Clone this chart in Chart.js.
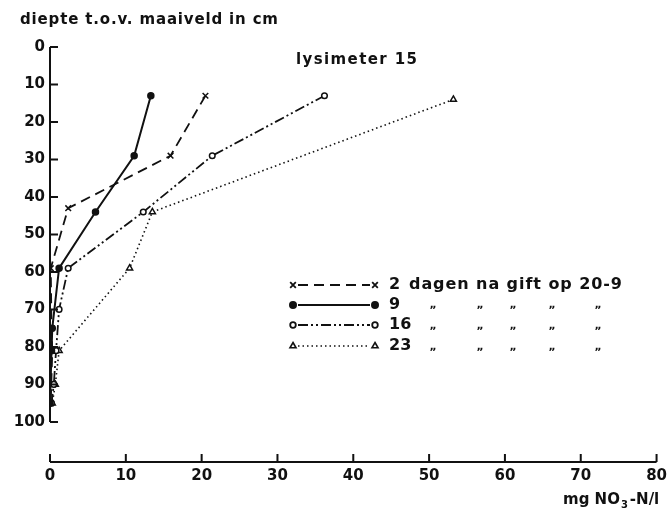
<!DOCTYPE html>
<html>
<head>
<meta charset="utf-8">
<script src="https://cdn.jsdelivr.net/npm/chart.js@4"></script>
<style>
  html, body { margin: 0; padding: 0; background: #fff; }
  #wrap { width: 672px; height: 508px; }
</style>
</head>
<body>
<div id="wrap"><canvas id="myChart" width="672" height="508"></canvas></div>
<script>
// ============================================
// DATA
// ============================================
const xTicks = [0, 10, 20, 30, 40, 50, 60, 70, 80];
const yTicks = [0, 10, 20, 30, 40, 50, 60, 70, 80, 90, 100];

const seriesNames = ['2', '9', '16', '23'];

const depth1 = [13, 29, 43, 59, 75, 81, 95];
const conc1 = [20.5, 15.9, 2.4, 0.1, 0.2, 0.3, 0.1];

const depth2 = [13, 29, 44, 59, 75, 81, 95];
const conc2 = [13.3, 11.1, 6.0, 1.2, 0.3, 0.2, 0];

const depth3 = [13, 29, 44, 59, 70, 81, 90, 95];
const conc3 = [36.2, 21.4, 12.3, 2.4, 1.2, 0.8, 0.5, 0.2];

const depth4 = [14, 44, 59, 81, 90, 95];
const conc4 = [53.2, 13.5, 10.5, 1.2, 0.7, 0.3];

const INK = '#111';
const FONT = '"DejaVu Sans", sans-serif';

function pts(xs, ys) {
    return xs.map((v, i) => ({ x: v, y: ys[i] }));
}

const styles = [
    { dash: [10, 6], width: 1.8, pointStyle: 'crossRot', radius: 4, fill: INK },
    { dash: [], width: 2, pointStyle: 'circle', radius: 3, fill: INK },
    { dash: [10, 3, 2, 3, 2, 3], width: 1.8, pointStyle: 'circle', radius: 2.8, fill: '#fff' },
    { dash: [1.5, 3], width: 1.6, pointStyle: 'triangle', radius: 3.5, fill: '#fff' }
];

const allData = [pts(conc1, depth1), pts(conc2, depth2), pts(conc3, depth3), pts(conc4, depth4)];

// draw text stretched to a given width using letter spacing
function spaced(c, text, x, y, width) {
    c.letterSpacing = '0px';
    const w = c.measureText(text).width;
    const sp = Math.max(0, (width - w) / (text.length - 1));
    c.letterSpacing = sp + 'px';
    c.fillText(text, x, y);
    c.letterSpacing = '0px';
}

// ============================================
// AXES, TEXT AND LEGEND
// ============================================
const decor = {
    id: 'decor',
    afterDraw(chart) {
        const c = chart.ctx;
        const xs = chart.scales.x;
        const ys = chart.scales.y;
        c.save();
        c.strokeStyle = INK;
        c.fillStyle = INK;
        c.lineWidth = 2;
        c.setLineDash([]);

        // y axis line from 0 to 100 with inward ticks
        const x0 = xs.getPixelForValue(0);
        c.beginPath();
        c.moveTo(x0, ys.getPixelForValue(0));
        c.lineTo(x0, ys.getPixelForValue(100));
        yTicks.forEach(v => {
            const p = ys.getPixelForValue(v);
            c.moveTo(x0, p);
            c.lineTo(x0 + 8, p);
        });
        c.stroke();

        // x axis line with inward ticks
        const yb = chart.chartArea.bottom;
        c.beginPath();
        c.moveTo(xs.getPixelForValue(0), yb);
        c.lineTo(xs.getPixelForValue(80), yb);
        xTicks.forEach(v => {
            const p = xs.getPixelForValue(v);
            c.moveTo(p, yb);
            c.lineTo(p, yb - 8);
        });
        c.stroke();

        // texts
        c.textBaseline = 'middle';
        c.textAlign = 'left';
        c.font = 'bold 15px ' + FONT;
        spaced(c, 'diepte t.o.v. maaiveld in cm', 20, 20, 258);
        spaced(c, 'lysimeter 15', 296, 60, 121);

        // x axis title with subscript
        let tx = 563;
        const ty = 500;
        c.font = 'bold 15px ' + FONT;
        c.fillText('mg NO', tx, ty);
        tx += c.measureText('mg NO').width + 1;
        c.font = 'bold 10px ' + FONT;
        c.fillText('3', tx, ty + 5);
        tx += c.measureText('3').width + 2;
        c.font = 'bold 15px ' + FONT;
        c.fillText('-N/l', tx, ty);

        // legend
        const rows = [285, 305, 325, 346];
        const lx1 = 293, lx2 = 375;
        rows.forEach((ry, i) => {
            const s = styles[i];
            c.strokeStyle = INK;
            c.lineWidth = s.width;
            c.setLineDash(s.dash);
            c.beginPath();
            c.moveTo(lx1 + 5, ry);
            c.lineTo(lx2 - 5, ry);
            c.stroke();
            c.setLineDash([]);
            c.fillStyle = s.fill;
            [lx1, lx2].forEach(px => {
                Chart.helpers.drawPoint(c, {
                    pointStyle: s.pointStyle, radius: s.radius,
                    borderWidth: 1.5, rotation: 0
                }, px, ry);
            });
            c.fillStyle = INK;
            c.font = 'bold 16px ' + FONT;
            c.fillText(seriesNames[i], 389, ry);
        });
        spaced(c, 'dagen na gift op 20-9', 409, rows[0], 213);
        c.font = 'bold 11px ' + FONT;
        c.textAlign = 'center';
        [433, 480, 513, 552, 598].forEach(dx => {
            for (let r = 1; r < 4; r++) {
                c.fillText('\u201E', dx, rows[r] + (r === 1 ? 0 : 1));
            }
        });
        c.restore();
    }
};

// ============================================
// CREATE CHART
// ============================================
new Chart(document.getElementById('myChart'), {
    type: 'scatter',
    data: {
        datasets: allData.map((d, i) => ({
            label: seriesNames[i],
            data: d,
            showLine: true,
            borderColor: INK,
            borderWidth: styles[i].width,
            borderDash: styles[i].dash,
            pointStyle: styles[i].pointStyle,
            pointRadius: styles[i].radius,
            pointBorderWidth: 1.5,
            pointBorderColor: INK,
            pointBackgroundColor: styles[i].fill,
            tension: 0
        }))
    },
    options: {
        responsive: false,
        animation: false,
        layout: { padding: { top: 47, right: 14, left: 0, bottom: 0 } },
        plugins: {
            legend: { display: false },
            tooltip: { enabled: false }
        },
        scales: {
            x: {
                type: 'linear',
                min: 0,
                max: 80,
                grid: { display: false, drawTicks: false },
                border: { display: false },
                afterFit(scale) { scale.height = 46; },
                ticks: {
                    stepSize: 10,
                    padding: 5,
                    color: INK,
                    font: { family: FONT, size: 15, weight: 'bold' }
                }
            },
            y: {
                type: 'linear',
                reverse: true,
                min: 0,
                max: 110.7,
                grid: { display: false, drawTicks: false },
                border: { display: false },
                afterFit(scale) { scale.width = 50; },
                afterBuildTicks(scale) {
                    scale.ticks = yTicks.map(v => ({ value: v }));
                },
                ticks: {
                    padding: 5,
                    color: INK,
                    font: { family: FONT, size: 15, weight: 'bold' }
                }
            }
        }
    },
    plugins: [decor]
});
</script>
</body>
</html>
